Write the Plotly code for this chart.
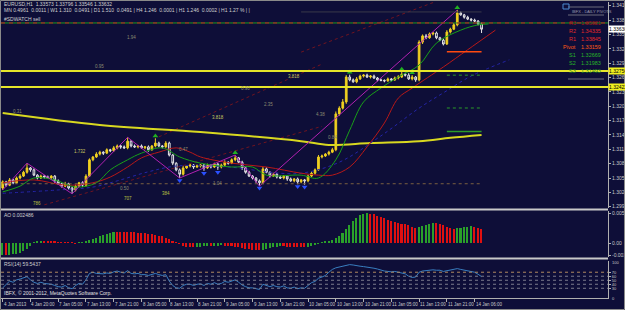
import plotly.graph_objects as go

BG = "#0e0e38"
FONT = "Liberation Sans"

# ---------------- data ----------------
close = [1.3044,1.3037,1.3048,1.3042,1.3052,1.3056,1.3064,1.3073,1.3069,1.3058,
         1.3052,1.3056,1.3054,1.3052,1.3056,1.3046,1.3040,1.3035,1.3040,1.3031,
         1.3027,1.3035,1.3042,1.3037,1.3056,1.3090,1.3096,1.3102,1.3106,1.3104,
         1.3111,1.3109,1.3115,1.3119,1.3117,1.3115,1.3129,1.3119,1.3117,1.3119,
         1.3115,1.3117,1.3111,1.3119,1.3125,1.3119,1.3117,1.3125,1.3100,1.3083,
         1.3069,1.3060,1.3073,1.3077,1.3079,1.3075,1.3077,1.3079,1.3073,1.3079,
         1.3075,1.3081,1.3075,1.3079,1.3085,1.3083,1.3090,1.3094,1.3085,1.3073,
         1.3064,1.3056,1.3052,1.3046,1.3042,1.3071,1.3064,1.3056,1.3060,1.3054,
         1.3052,1.3056,1.3050,1.3046,1.3050,1.3044,1.3048,1.3046,1.3056,1.3062,
         1.3069,1.3096,1.3098,1.3102,1.3106,1.3111,1.3186,1.3198,1.3211,1.3263,
         1.3257,1.3253,1.3259,1.3265,1.3267,1.3263,1.3265,1.3261,1.3257,1.3256,
         1.3255,1.3259,1.3257,1.3261,1.3263,1.3269,1.3267,1.3259,1.3263,1.3257,
         1.3336,1.3349,1.3345,1.3353,1.3355,1.3345,1.3340,1.3332,1.3357,1.3363,
         1.3372,1.3397,1.3393,1.3388,1.3384,1.3382,1.3380,1.3374,1.3363]
first_open = 1.3031
upper_wick_pips = [3,2,4,2,3,4,3,10,2,3, 2,3,2,3,2,2,3,2,4,2, 2,3,2,3,4,3,2,4,3,2,
                   3,2,4,3,2,3,8,2,3,2, 3,2,3,2,10,3,2,4,3,2, 2,3,4,2,3,2,3,2,2,3,
                   2,3,2,3,4,2,3,6,2,3, 2,3,2,2,3,4,3,2,3,2, 3,2,2,3,2,3,2,2,3,4,
                   3,4,3,2,3,4,5,4,6,4, 5,3,4,3,2,3,2,3,2,3, 2,3,2,3,4,5,3,4,4,2,
                   4,3,4,3,2,3,2,3,4,3, 4,6,3,2,3,2,3,2,3]
lower_wick_pips = [4,3,2,3,2,3,2,3,4,2, 3,2,3,2,3,4,2,3,2,3, 8,3,2,4,3,2,3,2,3,4,
                   2,3,2,3,4,2,3,3,2,3, 2,3,4,2,3,2,3,2,3,4, 3,8,3,2,3,4,2,3,6,2,
                   3,2,6,3,2,3,2,3,2,4, 3,2,3,4,6,3,2,3,2,3, 2,3,4,2,3,5,3,8,3,2,
                   3,2,3,2,3,2,3,4,3,4, 3,2,3,2,3,2,3,2,3,2, 3,2,3,2,3,2,3,2,3,4,
                   3,4,3,2,3,3,2,3,2,3, 2,3,2,3,2,3,2,3,8]

ao_x1e4 = [-24,-24,-23,-22,-21,-20,-16,-12,-6,1,
           3,4,3.6,3.2,2.8,2.4,2.0,1.4,0.8,0.4,
           0.2,-0.2,0.6,1.6,3,6,8,11,14,17,
           19,21,22.8,22.4,22.2,22.0,21.8,21.6,21.2,20.6,
           20,19.2,18.4,17.4,16.4,15,13.2,11,8.4,5,
           1.6,-2,-5,-7,-8,-8.4,-8,-7.2,-6.8,-6,
           -6.2,-5.6,-5.2,-4.8,-5,-5.4,-6,-7,-8.4,-10,
           -11.6,-12.8,-13.6,-14,-14.4,-13,-11.6,-10,-8.4,-7.2,
           -6.4,-6.8,-7.2,-7.6,-8,-8.4,-8.6,-8.8,-7.6,-5.6,
           -3.6,-1.2,1.2,3,5,7,10,15,20,28,
           36,44,51,56,59,59.2,58.8,57.2,54.4,52,
           49.6,47,44.8,42.6,40.8,39,37.2,35.2,33,31,
           32.4,34.6,37,39,41,40,38,35.6,33,30.4,
           28.4,29.6,31,32,32.8,33.4,31.6,29.6,27.6]

rsi = [31,40,48,45,51,53,56,59,51,45, 42,45,42,41,40,37,34,33,37,31,
       29,37,42,40,51,67,70,67,67,66, 68,67,71,73,70,68,74,67,66,67,
       64,64,62,64,67,64,62,64,48,37, 31,30,37,40,40,37,40,41,37,42,
       40,44,40,42,47,45,49,51,45,38, 34,31,31,29,27,40,37,34,37,34,
       33,36,31,30,33,29,31,30,37,44, 47,55,58,62,70,77,81,83,85,87,
       89,88,86,85,84,83,81,80,78,75, 73,72,71,72,70,69,66,60,57,58,
       70,73,74,75,76,75,75,72,74,75, 77,79,77,75,74,72,70,65,59]
rsi_levels = [70, 60, 50, 40, 30]

lips_bars = [0,5,9,15,21,27,31,36,40,46,51,57,66,72,76,86,91,96,100,104,109,114,120,125,132,137,140]
lips_vals = [1.3023,1.3035,1.3052,1.3048,1.3033,1.3042,1.3069,1.3090,1.3104,1.3115,1.3096,1.3083,1.3075,
             1.3075,1.3058,1.3058,1.3052,1.3090,1.3152,1.3211,1.3240,1.3263,1.3288,1.3334,1.3361,1.3372,1.3374]
teeth_bars = [0,9,18,26,31,36,40,45,50,54,57,66,76,86,91,95,100,105,110,114,118,127,134,142]
teeth_vals = [1.3042,1.3048,1.3037,1.3042,1.3054,1.3075,1.3094,1.3106,1.3115,1.3106,1.3096,1.3083,
              1.3075,1.3062,1.3058,1.3058,1.3075,1.3117,1.3167,1.3219,1.3240,1.3284,1.3320,1.3361]
jaw_bars = [0,16,26,33,42,50,60,68,77,86,97,109,120,127,135,146]
jaw_vals = [1.3020,1.3027,1.3033,1.3046,1.3065,1.3077,1.3077,1.3073,1.3064,1.3062,1.3085,1.3140,
            1.3198,1.3230,1.3265,1.3299]
ma200_bars = [0,28,57,86,94,106,120,129,138]
ma200_vals = [1.3188,1.3163,1.3148,1.3129,1.3121,1.3125,1.3129,1.3136,1.3142]
zz_bars = [0,7,20,36,51,67,74,131]
zz_vals = [1.3027,1.3083,1.3019,1.3137,1.3052,1.3100,1.3035,1.3403]
up_fractal_bars = [44,67,100,115,118,131]
down_fractal_bars = [51,58,62,74,85,87]

yellow_levels = [1.32756, 1.32422]
pivot_level = 1.33159
s_levels = [1.32669, 1.31983, 1.31493]
dash_level = 1.3376
gray_level = 1.3399
brown_level = 1.3040

pivot_names = ["R3", "R2", "R1", "Pivot", "S1", "S2", "S3"]
pivot_values = ["1.35021", "1.34335", "1.33845", "1.33159", "1.32669", "1.31983", "1.31493"]

price_ticks = [1.2992, 1.3022, 1.3052, 1.3082, 1.3112, 1.3142, 1.3172, 1.3202,
               1.3232, 1.3262, 1.3292, 1.3322, 1.3352, 1.3382, 1.3412]

time_label_bars = [0,8,16,24,32,40,48,56,64,72,80,88,96,104,112,120,128,136]
time_labels = ["4 Jan 2013","4 Jan 20:00","7 Jan 05:00","7 Jan 13:00","7 Jan 21:00","8 Jan 05:00",
               "8 Jan 13:00","8 Jan 21:00","9 Jan 05:00","9 Jan 13:00","9 Jan 21:00","10 Jan 05:00",
               "10 Jan 13:00","10 Jan 21:00","11 Jan 05:00","11 Jan 13:00","11 Jan 21:00","14 Jan 06:00"]

fib_labels = [("1.94",37,1.3345,"#8a8a70"),("0.95",28,1.3284,"#8a8a70"),("3.818",84,1.3265,"#c8c860"),
              ("0.90",70,1.3238,"#8a8a70"),("2.35",76.5,1.3205,"#8a8a70"),("0.31",4.4,1.3190,"#8a8a70"),
              ("3.818",62,1.3179,"#c8c860"),("1.732",22.3,1.3108,"#c8c860"),("0.47",52,1.3111,"#8a8a70"),
              ("0.50",35,1.3031,"#8a8a70"),("1.04",62,1.3040,"#8a8a70"),("707",36,1.3010,"#b8c040"),
              ("384",47,1.3019,"#b8c040"),("786",10,1.2998,"#b8c040"),("4.38",91.5,1.3184,"#8a8a70"),
              ("0.84",95,1.3136,"#8a8a70")]

# faint channel lines (bar, price) pairs
channel_lines = [((12, 1.2996), (92, 1.3160)), ((45, 1.3138), (92, 1.3290)), ((86, 1.3315), (126, 1.3424))]

# ---------------- derived ----------------
n = len(close)
bars = list(range(n))
opens = [first_open] + close[:-1]
highs = [max(o, c) + u * 1e-4 for o, c, u in zip(opens, close, upper_wick_pips)]
lows = [min(o, c) - l * 1e-4 for o, c, l in zip(opens, close, lower_wick_pips)]
ao = [v * 1e-4 for v in ao_x1e4]
ao_colors = ["#2aa02a"] + ["#2aa02a" if ao[i] > ao[i - 1] else "#e01010" for i in range(1, n)]

# ---------------- geometry ----------------
W, H = 625, 310
ML, MR = 1, 17
PW = W - ML - MR
XR = [-0.49, -0.49 + PW / 3.47]

def py(p):  # pixel row -> paper y
    return (H - p) / H

def px(p):  # pixel col -> paper x
    return (p - ML) / PW

main_dom = [py(208), py(2)]
ao_dom = [py(257), py(211)]
rsi_dom = [py(297.5), py(261)]

fig = go.Figure()

for (b0, p0), (b1, p1) in channel_lines:
    fig.add_trace(go.Scatter(x=[b0, b1], y=[p0, p1], mode="lines", line=dict(color="#701420", width=1, dash="dot"),
                             xaxis="x", yaxis="y"))

# Alligator & MA lines
fig.add_trace(go.Scatter(x=ma200_bars, y=ma200_vals, mode="lines", line=dict(color="#d8d820", width=2, shape="spline"), xaxis="x", yaxis="y"))
fig.add_trace(go.Scatter(x=jaw_bars, y=jaw_vals, mode="lines", line=dict(color="#2424a8", width=1, dash="dot", shape="spline"), xaxis="x", yaxis="y"))
fig.add_trace(go.Scatter(x=teeth_bars, y=teeth_vals, mode="lines", line=dict(color="#b81818", width=1, shape="spline"), xaxis="x", yaxis="y"))
fig.add_trace(go.Scatter(x=lips_bars, y=lips_vals, mode="lines", line=dict(color="#18a018", width=1, shape="spline"), xaxis="x", yaxis="y"))
fig.add_trace(go.Scatter(x=zz_bars, y=zz_vals, mode="lines", line=dict(color="#b020b0", width=1), xaxis="x", yaxis="y"))

# horizontal objects
def hline(y, color, width=1, dash="solid", x0=XR[0], x1=XR[1]):
    fig.add_shape(type="line", xref="x", yref="y", x0=x0, x1=x1, y0=y, y1=y,
                  line=dict(color=color, width=width, dash=dash))

hline(dash_level, "#1e9a1e", 1)
hline(dash_level, "#c81e1e", 1, "4px,4px")
hline(gray_level, "#3a3a4a", 1, x0=86, x1=138)
hline(brown_level, "#7a6040", 1, "dot", x0=0, x1=138)
for lv in yellow_levels:
    hline(lv, "#e6e62a", 2)
hline(pivot_level, "#ff4a10", 1.5, x0=128, x1=138)
hline(s_levels[0], "#2a9a2a", 1, "dot", x0=128, x1=138)
hline(s_levels[1], "#2a9a2a", 1, "dot", x0=128, x1=138)
hline(s_levels[2], "#2a9a2a", 1.5, x0=128, x1=138)

# candles
fig.add_trace(go.Candlestick(x=bars, open=opens, high=highs, low=lows, close=close,
                             increasing=dict(line=dict(color="#f0d020", width=1), fillcolor="#f0d020"),
                             decreasing=dict(line=dict(color="#e8e8e8", width=1), fillcolor=BG),
                             whiskerwidth=0, xaxis="x", yaxis="y"))

# fractals
fig.add_trace(go.Scatter(x=up_fractal_bars, y=[highs[i] + 0.0005 for i in up_fractal_bars], mode="markers",
                         marker=dict(symbol="triangle-up", size=5, color="#20b020"), xaxis="x", yaxis="y"))
fig.add_trace(go.Scatter(x=down_fractal_bars, y=[lows[i] - 0.0005 for i in down_fractal_bars], mode="markers",
                         marker=dict(symbol="triangle-down", size=5, color="#2a50ff"), xaxis="x", yaxis="y"))

# AO
fig.add_trace(go.Bar(x=bars, y=ao, marker=dict(color=ao_colors, line=dict(width=0)), width=0.45,
                     xaxis="x2", yaxis="y2"))
# RSI
for k, lv in enumerate(rsi_levels):
    fig.add_shape(type="line", xref="x3", yref="y3", x0=XR[0], x1=XR[1], y0=lv, y1=lv,
                  line=dict(color="#b08a60" if k == 0 else "#7c7c8c", width=1, dash="dot"))
fig.add_trace(go.Scatter(x=bars, y=rsi, mode="lines", line=dict(color="#3a7fc0", width=1), xaxis="x3", yaxis="y3"))

axcommon = dict(showgrid=False, zeroline=False, automargin=False)
tf = dict(family=FONT, size=5, color="#c8c8c8")
tf_small = dict(family=FONT, size=4, color="#c8c8c8")
fig.update_layout(
    width=W, height=H, margin=dict(l=ML, r=MR, t=0, b=0),
    paper_bgcolor=BG, plot_bgcolor=BG, showlegend=False, bargap=0,
    xaxis=dict(domain=[0, 1], range=XR, anchor="y", showticklabels=False, rangeslider=dict(visible=False), **axcommon),
    xaxis2=dict(domain=[0, 1], range=XR, anchor="y2", showticklabels=False, matches="x", **axcommon),
    xaxis3=dict(domain=[0, 1], range=XR, anchor="y3", showticklabels=False, matches="x",
                tickvals=time_label_bars, ticks="outside", ticklen=3, tickcolor="#b0b0b0",
                showline=True, linecolor="#b0b0b0", linewidth=1, **axcommon),
    yaxis=dict(domain=main_dom, range=[1.29893, 1.34198], side="right", anchor="x",
               tickvals=price_ticks, ticktext=["%.5f" % t for t in price_ticks], tickfont=tf,
               ticks="outside", ticklen=2, tickcolor="#b0b0b0", showline=True, linecolor="#b0b0b0", **axcommon),
    yaxis2=dict(domain=ao_dom, range=[-0.0028, 0.0064], side="right", anchor="x2",
                tickvals=[0.00592, 0.0, -0.0024], ticktext=["0.00592", "0.00", "-0.00240"], tickfont=tf,
                ticks="outside", ticklen=2, tickcolor="#b0b0b0", showline=True, linecolor="#b0b0b0", **axcommon),
    yaxis3=dict(domain=rsi_dom, range=[7, 98], side="right", anchor="x3",
                tickvals=rsi_levels, tickfont=tf_small,
                ticks="outside", ticklen=2, tickcolor="#b0b0b0", showline=True, linecolor="#b0b0b0", **axcommon),
)

# panel separators
for yy in [209.5, 258.5]:
    fig.add_shape(type="line", xref="paper", yref="paper", x0=0, x1=1, y0=py(yy), y1=py(yy),
                  line=dict(color="#c8c8c8", width=2))
# window border
fig.add_shape(type="rect", xref="paper", yref="paper", x0=px(0.5), x1=px(624.5), y0=py(309.5), y1=py(0.5),
              line=dict(color="#8a8a8a", width=1))

ann = []
def text(x, y, s, color="#d0d0d0", size=5, xanchor="left", bg=None, xref="paper", yref="paper"):
    d = dict(x=x, y=y, xref=xref, yref=yref, text=s, showarrow=False, xanchor=xanchor, yanchor="middle",
             font=dict(family=FONT, size=size, color=color), borderpad=0)
    if bg:
        d["bgcolor"] = bg
    ann.append(d)

# header
text(px(3), py(4), "EURUSD,H1  1.33573 1.33796 1.33546 1.33632")
text(px(3), py(10.5), "MN 0.4961  0.0011 | W1 1.310  0.0491 | D1 1.510  0.0491 | H4 1.246  0.0001 | H1 1.246  0.0002 | H1 1.27 % | |")
text(px(3), py(19), "#SDWATCH sell")
text(px(3), py(214.5), "AO 0.002486")
text(px(3), py(264), "RSI(14) 59.5437")
text(px(3), py(293), "IBFX, © 2001-2012, MetaQuotes Software Corp.", color="#e0e0e0")

# RSI scale end labels
text(px(611), py(262.5), "100", color="#c8c8c8", size=4)
text(px(611), py(298.5), "0", color="#c8c8c8", size=4)

# fib labels
for s, b, p, c in fib_labels:
    text(b, p, s, color=c, size=4.5, xanchor="center", xref="x", yref="y")

# time labels
for b, s in zip(time_label_bars, time_labels):
    text(b, py(304), s, color="#c8c8c8", size=4.5, xref="x3")

# pivot panel
pv_colors = ["#a01818", "#e02828", "#e02828", "#ff5a14", "#28b428", "#28b428", "#1e8a1e"]
pv_rows = [23, 31, 39, 47, 55, 63, 71]
text(px(571), py(12), "IBFX - DAILY PIVOTS", color="#9a9ab0", size=4)
for nm, v, c, r in zip(pivot_names, pivot_values, pv_colors, pv_rows):
    text(px(577), py(r), nm, color=c, size=5.5, xanchor="right")
    text(px(580), py(r), v, color=c, size=5.5)
for r in [7, 15, 79]:
    fig.add_shape(type="line", xref="paper", yref="paper", x0=px(568), x1=px(604), y0=py(r), y1=py(r),
                  line=dict(color="#6a6a7a", width=1))
fig.add_shape(type="rect", xref="paper", yref="paper", x0=px(563), x1=px(569), y0=py(9), y1=py(4),
              line=dict(color="#4a8ad0", width=1))

# price-axis boxes
for lv in yellow_levels:
    text(1.0, lv, "%.5f" % lv, color="#000000", size=5, bg="#f0f020", xref="paper", yref="y")
text(1.0, close[-1], "%.5f" % close[-1], color="#000000", size=5, bg="#ffffff", xref="paper", yref="y")

fig.update_layout(annotations=ann)
fig.write_html("out.html")
